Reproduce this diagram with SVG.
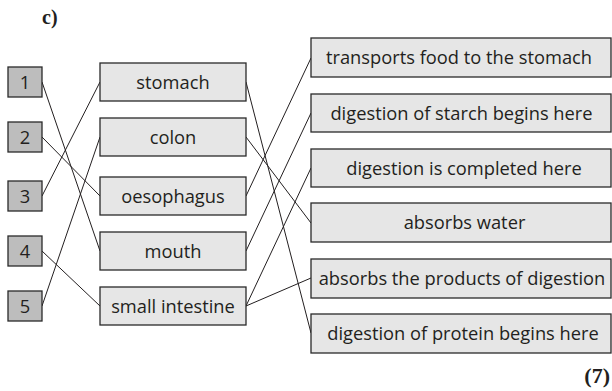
<svg xmlns="http://www.w3.org/2000/svg" width="612" height="391" viewBox="0 0 612 391">
<style>
.box{fill:#e6e6e6;stroke:#2a2a2a;stroke-width:1.3}
.num{fill:#bdbdbd;stroke:#2a2a2a;stroke-width:1.3}
.t{font-family:"Open Sans","Liberation Sans",sans-serif;font-size:18.3px;fill:#231f20;text-anchor:middle}
.lbl{font-family:"Liberation Serif",serif;font-weight:bold;fill:#231f20}
.c line{stroke:#231f20;stroke-width:1}
</style>
<rect width="612" height="391" fill="#fff"/>
<text class="lbl" x="42" y="24" font-size="20">c)</text>
<text class="lbl" x="610" y="383" font-size="22" text-anchor="end">(7)</text>
<g class="c" id="connectors">
<line x1="42" y1="82" x2="100" y2="251"/>
<line x1="42" y1="137" x2="100" y2="196"/>
<line x1="42" y1="196" x2="100" y2="82"/>
<line x1="42" y1="251" x2="100" y2="306"/>
<line x1="42" y1="306" x2="100" y2="137"/>
<line x1="246" y1="82" x2="311" y2="333"/>
<line x1="246" y1="137" x2="311" y2="223"/>
<line x1="246" y1="196" x2="311" y2="58"/>
<line x1="246" y1="251" x2="311" y2="113"/>
<line x1="246" y1="306" x2="311" y2="168"/>
<line x1="246" y1="306" x2="311" y2="278"/>
</g>
<g id="n1"><rect class="num" x="8" y="67" width="34" height="30"/><text class="t" x="25" y="88.5">1</text></g>
<g id="n2"><rect class="num" x="8" y="122" width="34" height="30"/><text class="t" x="25" y="143.5">2</text></g>
<g id="n3"><rect class="num" x="8" y="181" width="34" height="30"/><text class="t" x="25" y="202.5">3</text></g>
<g id="n4"><rect class="num" x="8" y="236" width="34" height="30"/><text class="t" x="25" y="257.5">4</text></g>
<g id="n5"><rect class="num" x="8" y="291" width="34" height="30"/><text class="t" x="25" y="312.5">5</text></g>
<g id="stomach"><rect class="box" x="100" y="63" width="146" height="38"/><text class="t" x="173" y="88.5">stomach</text></g>
<g id="colon"><rect class="box" x="100" y="118" width="146" height="38"/><text class="t" x="173" y="143.5">colon</text></g>
<g id="oesophagus"><rect class="box" x="100" y="177" width="146" height="38"/><text class="t" x="173" y="202.5">oesophagus</text></g>
<g id="mouth"><rect class="box" x="100" y="232" width="146" height="38"/><text class="t" x="173" y="257.5">mouth</text></g>
<g id="small-intestine"><rect class="box" x="100" y="287" width="146" height="38"/><text class="t" x="173" y="312.5">small intestine</text></g>
<g id="r1"><rect class="box" x="311" y="38" width="300" height="39"/><text class="t" x="459" y="64">transports food to the stomach</text></g>
<g id="r2"><rect class="box" x="311" y="94" width="300" height="38"/><text class="t" x="461.5" y="119.5">digestion of starch begins here</text></g>
<g id="r3"><rect class="box" x="311" y="149" width="300" height="38"/><text class="t" x="464" y="174.5">digestion is completed here</text></g>
<g id="r4"><rect class="box" x="311" y="203" width="300" height="39"/><text class="t" x="464.5" y="229">absorbs water</text></g>
<g id="r5"><rect class="box" x="311" y="259" width="300" height="39"/><text class="t" x="462" y="285">absorbs the products of digestion</text></g>
<g id="r6"><rect class="box" x="311" y="314" width="300" height="39"/><text class="t" x="463" y="340">digestion of protein begins here</text></g>
</svg>
